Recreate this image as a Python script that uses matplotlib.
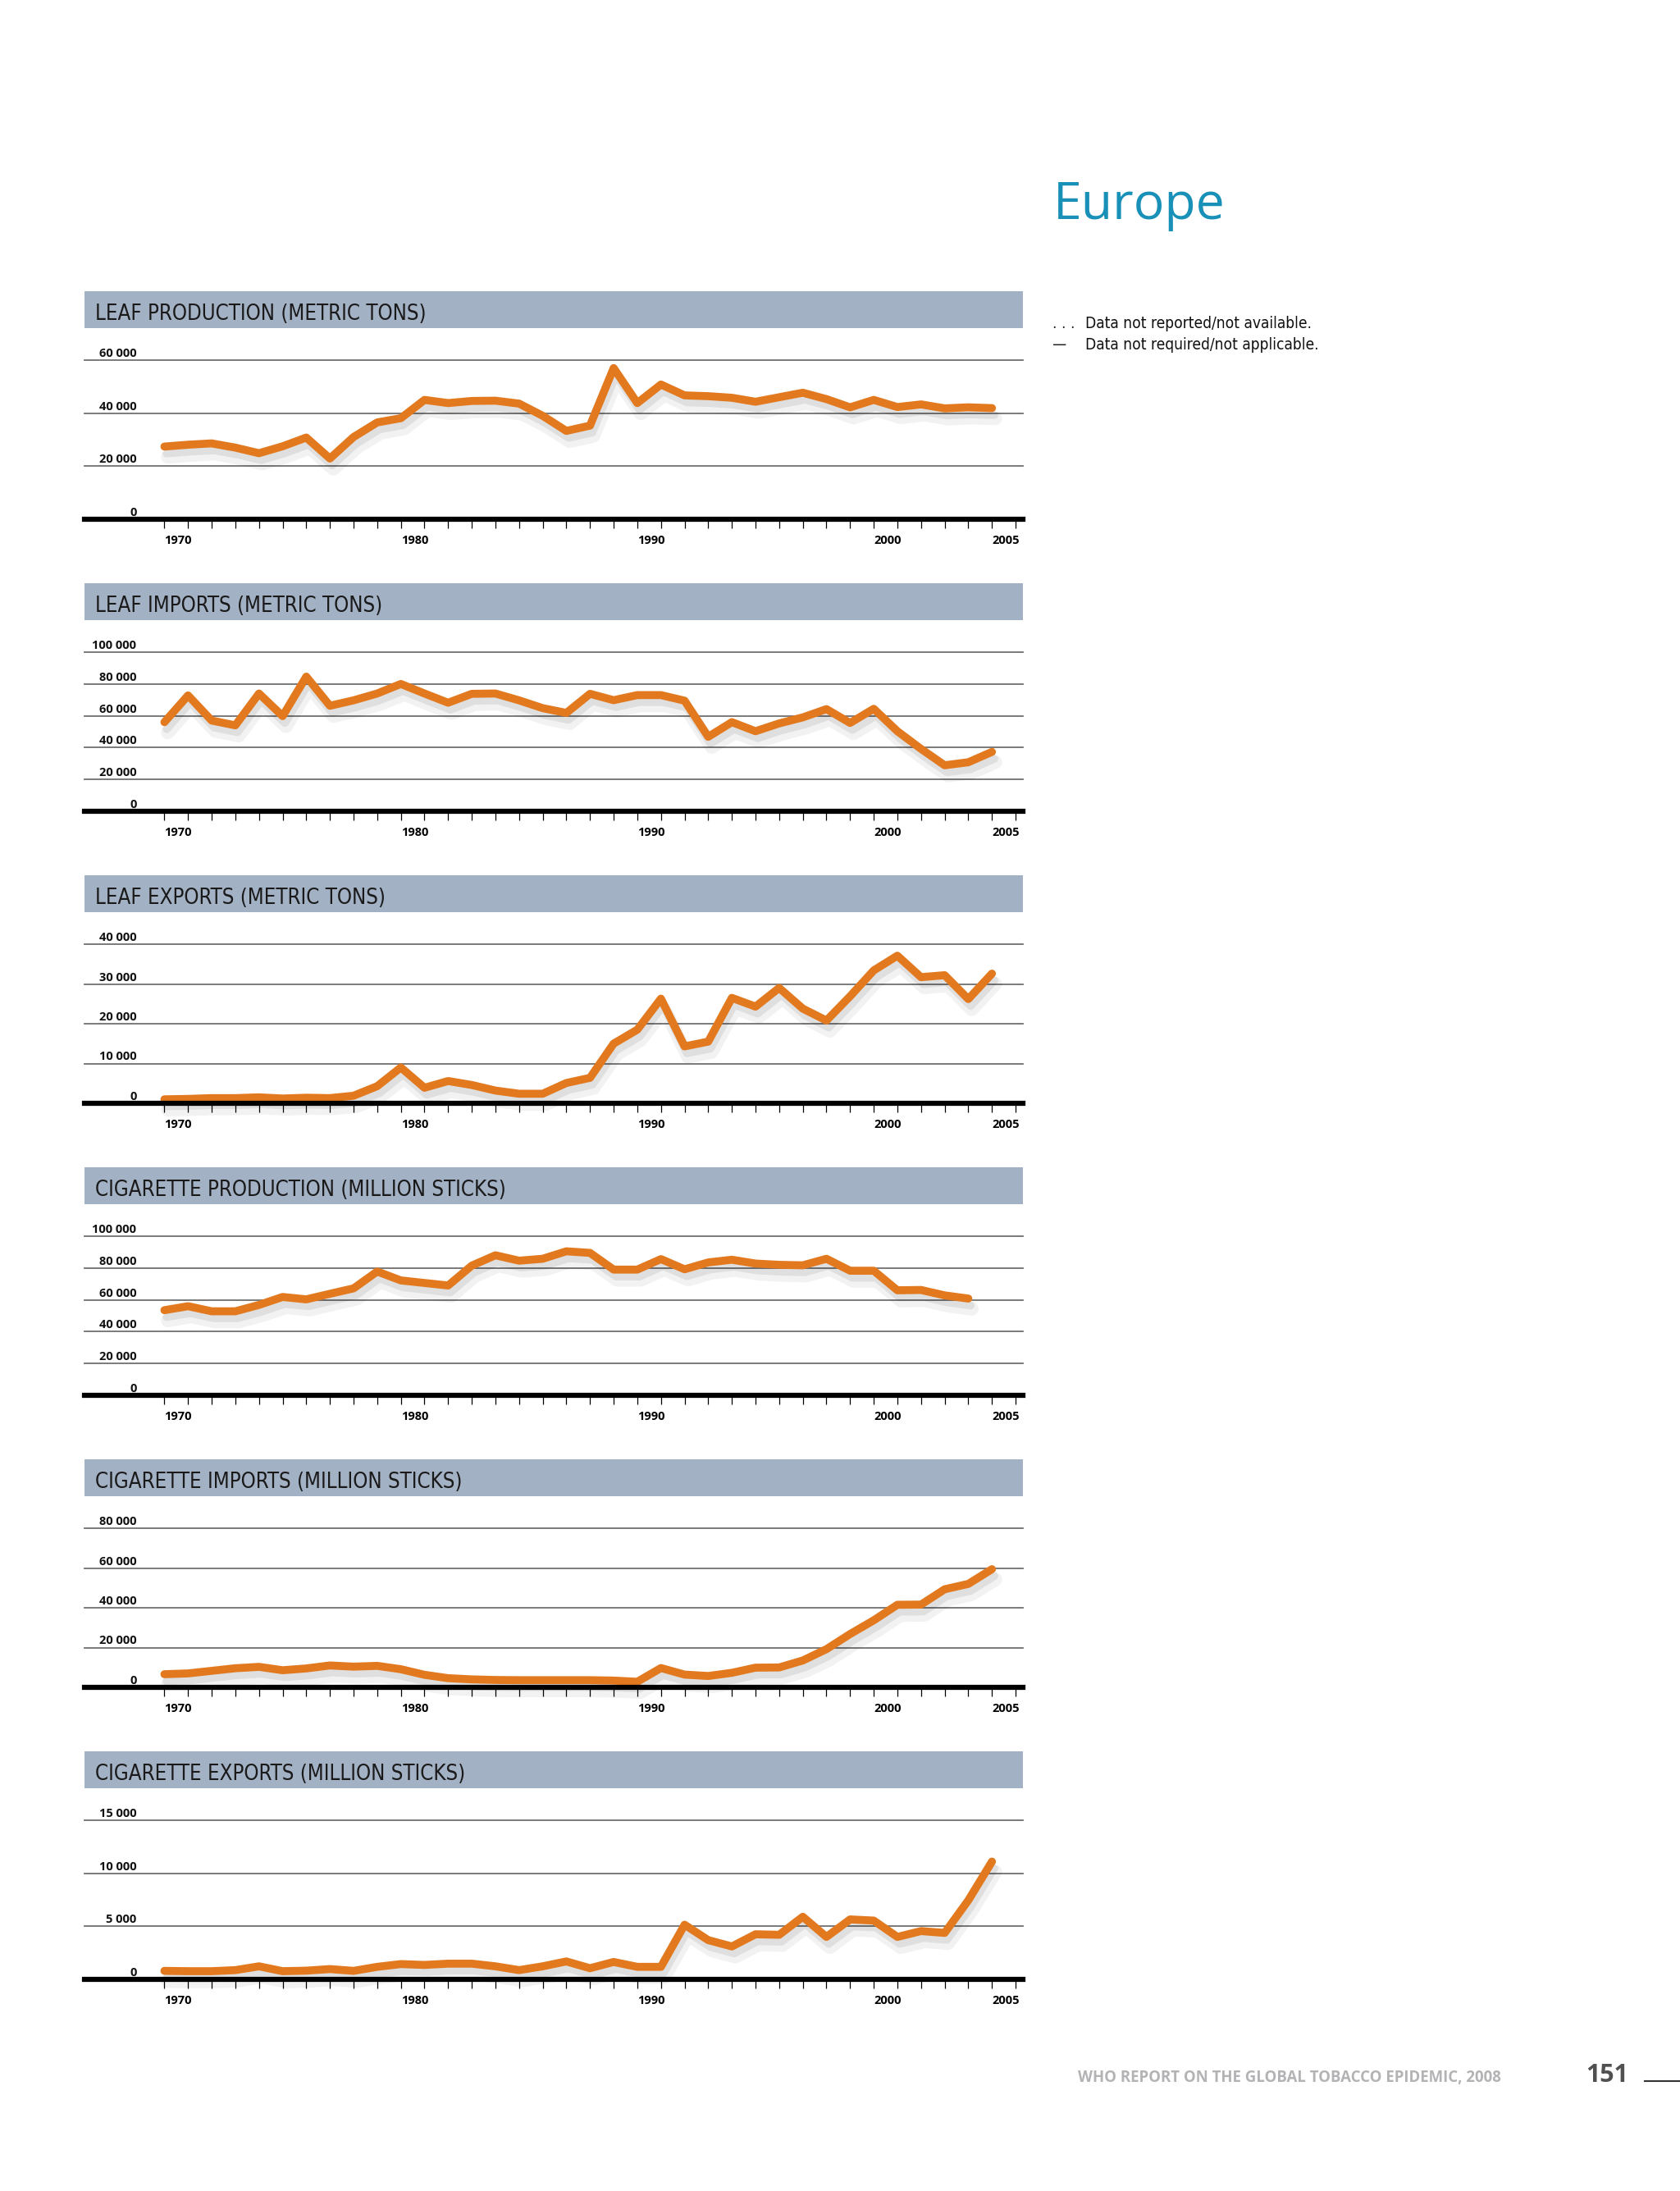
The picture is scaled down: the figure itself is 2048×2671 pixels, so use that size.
import matplotlib
matplotlib.use('Agg')
import matplotlib.pyplot as plt
import matplotlib.patheffects as pe
import matplotlib.transforms as mtransforms
from matplotlib import font_manager as fm
from matplotlib.patches import Rectangle
import numpy as np

# page size in pixels
W, H = 2048, 2671

years = list(range(1970, 2006))

leaf_production = [27400, 28100, 28600, 27000, 24900, 27500, 30800, 22900, 31000, 36500,
                   38100, 45000, 43800, 44600, 44700, 43600, 39000, 33300, 35300, 57000,
                   43800, 50800, 46700, 46400, 45800, 44300, 46000, 47700, 45300, 42200,
                   45000, 42300, 43300, 41800, 42200, 41900]
leaf_imports = [56000, 72800, 57000, 54000, 74000, 59800, 84600, 66300, 69700, 74000,
                80000, 74000, 68200, 73800, 74000, 69700, 64800, 61800, 73800, 69800,
                73000, 73000, 69500, 46800, 56000, 50300, 55200, 59000, 64200, 55500,
                64400, 50300, 39200, 28900, 30800, 37300]
leaf_exports = [1000, 1100, 1300, 1300, 1500, 1200, 1400, 1300, 1900, 4300,
                9000, 3900, 5600, 4600, 3200, 2400, 2400, 5100, 6400, 15000,
                18500, 26300, 14300, 15500, 26500, 24300, 29000, 23800, 20800, 26900,
                33400, 37100, 31700, 32200, 26200, 32600]
cig_production = [53500, 56000, 52800, 52800, 56800, 61800, 60300, 63800, 67200, 77800,
                  72200, 70600, 69000, 81500, 88000, 84600, 85800, 90500, 89500, 79000,
                  79000, 85600, 79200, 83500, 85200, 82800, 82000, 81700, 85800, 78300,
                  78300, 66000, 66200, 62800, 60800, np.nan]
cig_imports = [6600, 7000, 8300, 9600, 10300, 8600, 9500, 11000, 10400, 10800,
               9100, 6300, 4600, 4000, 3700, 3600, 3600, 3600, 3600, 3400,
               2800, 9700, 6400, 5700, 7300, 9900, 10000, 13500, 19200, 26800,
               33700, 41500, 41600, 49300, 52000, 59400]
cig_exports = [800, 770, 770, 870, 1230, 770, 820, 970, 800, 1180,
               1440, 1360, 1480, 1480, 1230, 870, 1230, 1690, 1050, 1640,
               1180, 1180, 5150, 3700, 3100, 4250, 4200, 5900, 4000, 5650,
               5540, 4000, 4550, 4380, 7450, 11100]

titles = ['LEAF PRODUCTION (METRIC TONS)', 'LEAF IMPORTS (METRIC TONS)',
          'LEAF EXPORTS (METRIC TONS)', 'CIGARETTE PRODUCTION (MILLION STICKS)',
          'CIGARETTE IMPORTS (MILLION STICKS)', 'CIGARETTE EXPORTS (MILLION STICKS)']
series = [leaf_production, leaf_imports, leaf_exports, cig_production, cig_imports, cig_exports]
y_max = [60000, 100000, 40000, 100000, 80000, 15000]
y_step = [20000, 20000, 10000, 20000, 20000, 5000]

sans = ['Open Sans', 'DejaVu Sans']
orange = '#E2791F'
bar_col = '#A3B1C5'

# look for a narrow face; otherwise shrink the regular one
names = {f.name for f in fm.fontManager.ttflist}
cond_dejavu = any(f.name == 'DejaVu Sans' and f.stretch == 'condensed'
                  for f in fm.fontManager.ttflist)
if 'Liberation Sans Narrow' in names:
    narrow = dict(family=['Liberation Sans Narrow', 'DejaVu Sans'])
    title_size, note_size = 20, 14.5
elif cond_dejavu:
    narrow = dict(family=['DejaVu Sans'], fontstretch='condensed')
    title_size, note_size = 18.5, 13.8
else:
    narrow = dict(family=['DejaVu Sans'])
    title_size, note_size = 16.8, 12.5


def fx(x):
    return x / W


def fy(y):
    return 1 - y / H


fig = plt.figure(figsize=(W / 100, H / 100), dpi=100)
fig.patch.set_facecolor('white')

left, right = 103, 1247
for i in range(6):
    top = 355 + 356 * i
    # grey-blue title bar
    fig.add_artist(Rectangle((fx(left), fy(top + 45)), (right - left) / W, 45 / H,
                             transform=fig.transFigure, facecolor=bar_col,
                             edgecolor='none', zorder=0))
    fig.text(fx(116), fy(top + 35), titles[i], fontsize=title_size,
             color='#1a1a1a', va='baseline', ha='left', **narrow)

    ax = fig.add_axes([fx(left), fy(top + 278), (right - left) / W, 194 / H])
    ax.set_facecolor('none')
    ax.set_xlim(1966.62, 2006.31)
    ax.set_ylim(0, y_max[i])
    for s in ['top', 'left', 'right']:
        ax.spines[s].set_visible(False)
    ax.spines['bottom'].set_linewidth(4.5)
    ax.spines['bottom'].set_color('black')
    ax.spines['bottom'].set_zorder(4)

    vals = np.arange(y_step[i], y_max[i] + 1, y_step[i])
    for v in vals:
        ax.axhline(v, color='#707070', lw=1.3, clip_on=False, zorder=1)

    lab_tr = mtransforms.offset_copy(ax.get_yaxis_transform(), fig=fig, y=4, units='dots')
    for v in [0] + list(vals):
        ax.text(0.0555, v, f'{v:,}'.replace(',', ' '), transform=lab_tr,
                ha='right', va='baseline', family=sans, fontsize=10.5,
                fontweight='bold', color='#111111')

    ax.set_yticks([])
    ax.set_xticks(range(1970, 2007), minor=True)
    ax.set_xticks([1970, 1980, 1990, 2000, 2005])
    ax.set_xticklabels(['1970', '1980', '1990', '2000', '2005'], ha='left',
                       family=sans, fontsize=10.5, fontweight='bold')
    ax.tick_params(axis='x', which='both', direction='out', length=8, width=0.9,
                   color='black', pad=6)

    ax.plot(years, np.array(series[i], dtype=float), color=orange, lw=7,
            solid_joinstyle='round', solid_capstyle='round', clip_on=False, zorder=3,
            path_effects=[pe.SimpleLineShadow(offset=(3, -9), shadow_color='black', alpha=0.05,
                                              linewidth=12),
                          pe.SimpleLineShadow(offset=(2, -6), shadow_color='black', alpha=0.08),
                          pe.Normal()])

# region heading and notes
fig.text(fx(1284), fy(267), 'Europe', family=sans, fontsize=45, color='#1990B8',
         va='baseline', ha='left')
fig.text(fx(1283), fy(400), '. . .', fontsize=note_size, color='#222222', va='baseline', **narrow)
fig.text(fx(1323), fy(400), 'Data not reported/not available.', fontsize=note_size,
         color='#111111', va='baseline', **narrow)
fig.text(fx(1282), fy(426), '\u2014', fontsize=note_size, color='#222222', va='baseline', **narrow)
fig.text(fx(1323), fy(426), 'Data not required/not applicable.', fontsize=note_size,
         color='#111111', va='baseline', **narrow)

# footer
fig.text(fx(1314), fy(2538), 'WHO REPORT ON THE GLOBAL TOBACCO EPIDEMIC, 2008', family=sans,
         fontsize=13.4, fontweight='bold', color='#B3B3B6', va='baseline')
fig.text(fx(1933), fy(2538), '151', family=sans, fontsize=22, fontweight='bold',
         color='#505050', va='baseline')
fig.add_artist(plt.Line2D([fx(2005), fx(2048)], [fy(2537), fy(2537)],
                          transform=fig.transFigure, color='#333333', lw=1.5))

fig.savefig('out.png', dpi=100, facecolor='white')
